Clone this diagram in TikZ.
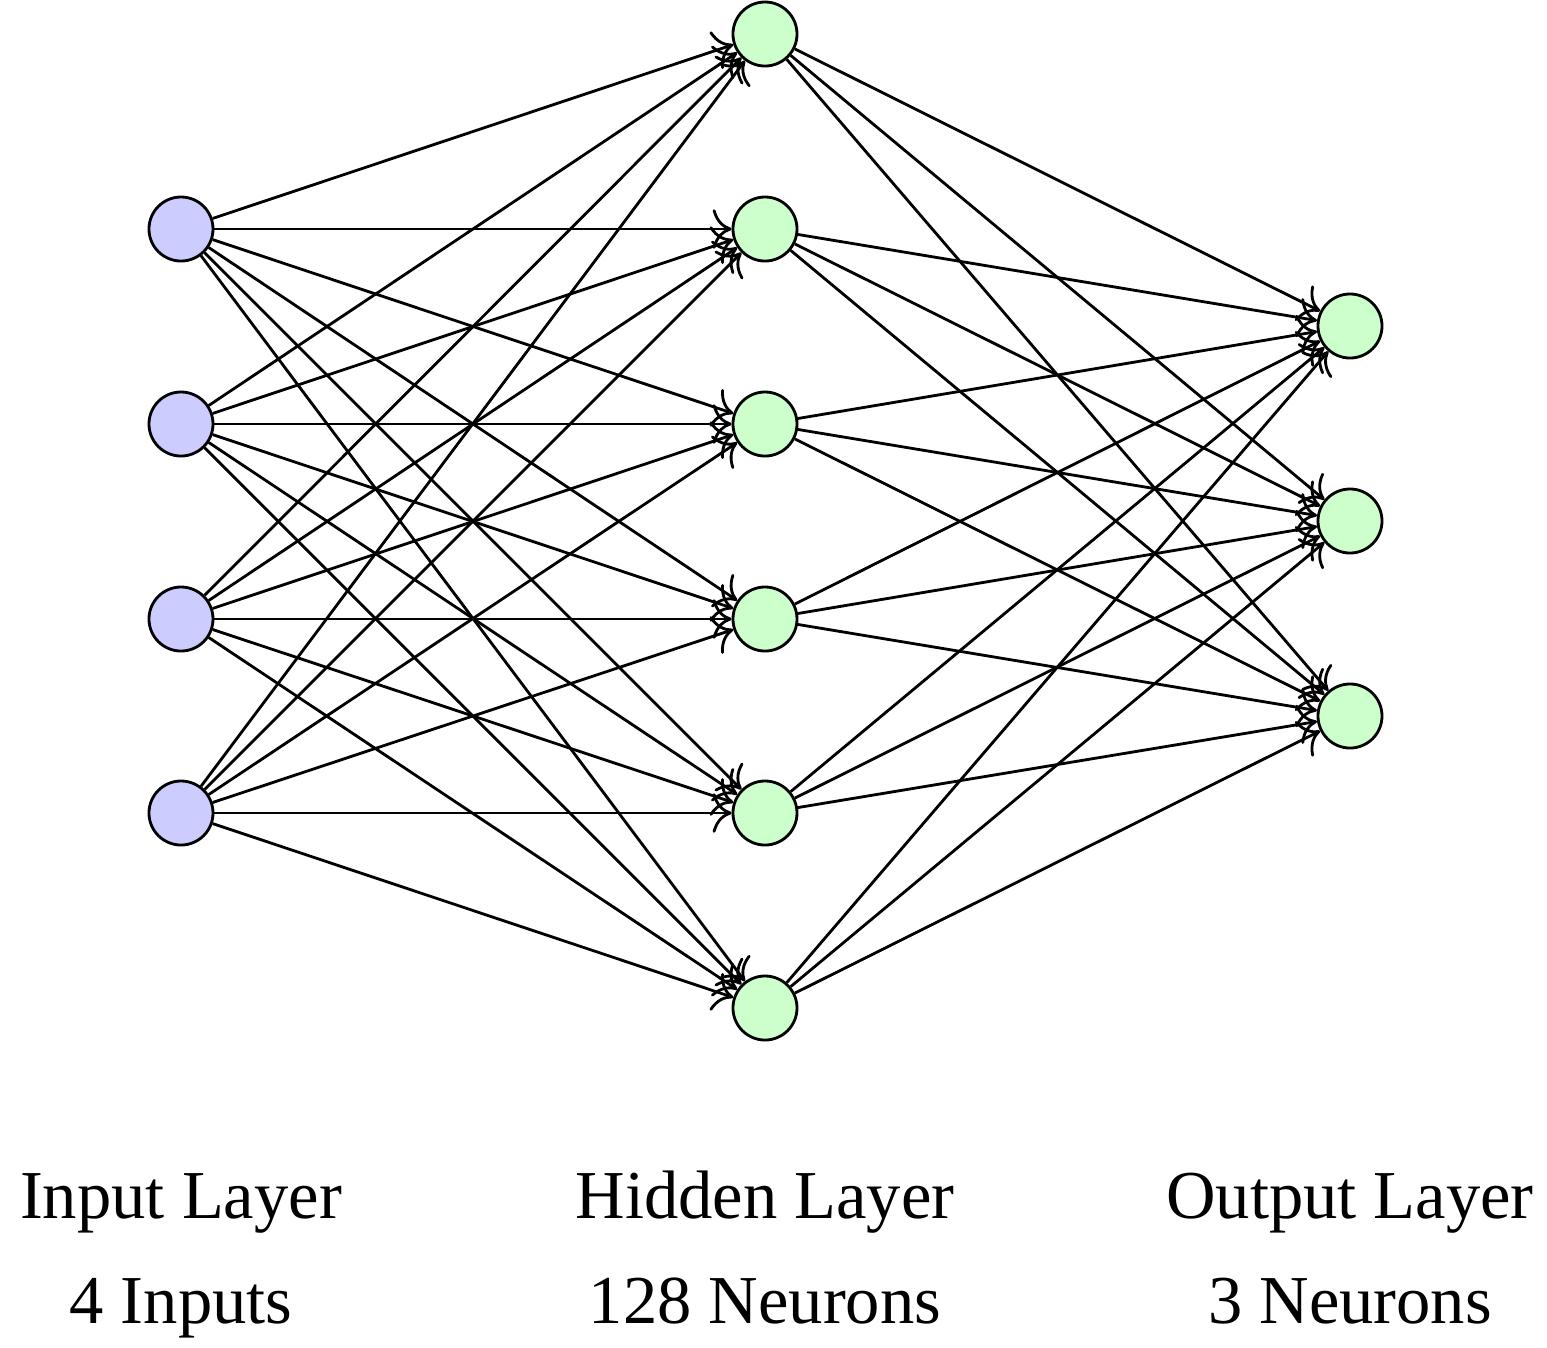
\documentclass[tikz,border=0pt]{standalone}
\usepackage{fontspec}
\setmainfont{Liberation Serif}
\usetikzlibrary{arrows.meta}

\tikzset{
  neuron/.style={circle, draw=black, thick, minimum size=0.64cm, inner sep=0pt},
  inneuron/.style={neuron, fill=blue!20},
  hidneuron/.style={neuron, fill=green!20},
  link/.style={-{To[scale=1.6]}, thick},
  layerlabel/.style={align=center, font=\fontsize{19.5}{30}\selectfont}
}

\begin{document}
\begin{tikzpicture}[x=0.01cm, y=-0.01cm]
   \useasboundingbox (0,0) rectangle (1547,1347);

   % input layer
   \foreach \i/\y in {1/229,2/424,3/619,4/813}
      \node [inneuron] (in\i) at (181,\y) {};
   % hidden layer
   \foreach \j/\y in {1/34,2/229,3/424,4/619,5/813,6/1008}
      \node [hidneuron] (hid\j) at (765,\y) {};
   % output layer
   \foreach \k/\y in {1/326,2/521,3/716}
      \node [hidneuron] (out\k) at (1350,\y) {};

   \foreach \i in {1,...,4}
      \foreach \j in {1,...,6}
         \draw [link] (in\i) -- (hid\j);
   \foreach \j in {1,...,6}
      \foreach \k in {1,...,3}
         \draw [link] (hid\j) -- (out\k);

   \node [layerlabel] (inlab) at (181,1250) {\strut Input Layer\\\strut 4 Inputs};
   \node [layerlabel] (hidlab) at (765,1250) {\strut Hidden Layer\\\strut 128 Neurons};
   \node [layerlabel] (outlab) at (1350,1250) {\strut Output Layer\\\strut 3 Neurons};
\end{tikzpicture}
\end{document}
